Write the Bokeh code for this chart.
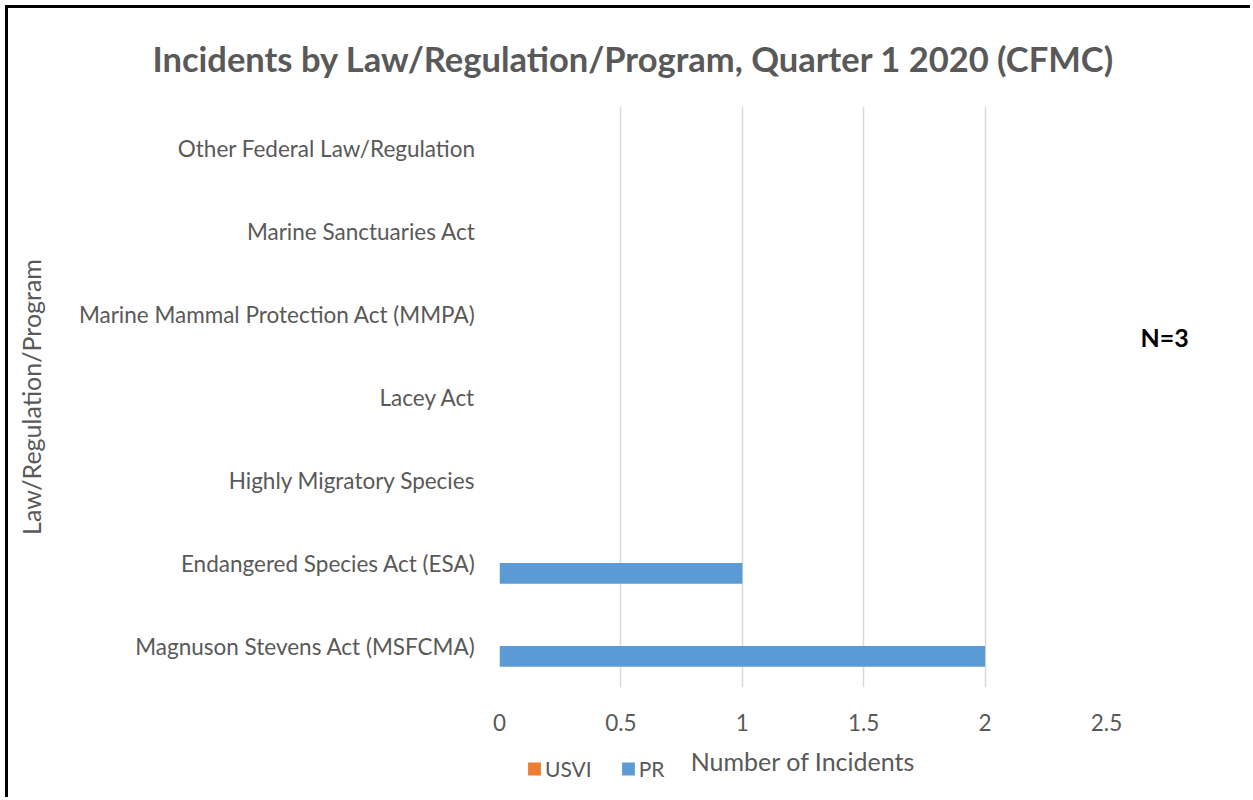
from bokeh.plotting import figure
from bokeh.layouts import column
from bokeh.models import (Range1d, FixedTicker, NumeralTickFormatter,
                          Legend, LegendItem, Title, ColumnDataSource, LinearAxis)
from bokeh.transform import dodge
from bokeh.embed import file_html
from bokeh.resources import INLINE

# ---- data (bottom-to-top order as drawn) ----
categories = [
    "Magnuson Stevens Act (MSFCMA)",
    "Endangered Species Act (ESA)",
    "Highly Migratory Species",
    "Lacey Act",
    "Marine Mammal Protection Act (MMPA)",
    "Marine Sanctuaries Act",
    "Other Federal Law/Regulation",
]
usvi = [0, 0, 0, 0, 0, 0, 0]
pr = [2, 1, 0, 0, 0, 0, 0]
series_names = ["USVI", "PR"]
series_colors = ["#ED7D31", "#5B9BD5"]
x_ticks = [0, 0.5, 1, 1.5, 2, 2.5]
title_text = "Incidents by Law/Regulation/Program, Quarter 1 2020 (CFMC)"
note_text = "N=3"
note_pos = 4.22  # vertical position of the note, in category slots from the bottom

FONT = "Lato"
GRAY = "#595959"

n = len(categories)
slot = [i + 0.5 for i in range(n)]  # centre of each category slot
src = ColumnDataSource(dict(cat=categories, slot=slot, USVI=usvi, PR=pr))

p = figure(width=1245, height=792, output_backend="svg", toolbar_location=None,
           title=None, x_range=Range1d(0, 2.5), y_range=Range1d(0, n),
           min_border_left=491, min_border_right=147, min_border_top=98,
           min_border_bottom=113)
p.outline_line_color = None
p.background_fill_color = "white"
p.border_fill_color = "white"
p.styles = {"margin-left": "5px", "margin-top": "5px",
            "border-left": "3px solid black", "border-top": "3px solid black"}

r_usvi = p.hbar(y=dodge("slot", 0.125), right="USVI", height=0.25,
                source=src, fill_color=series_colors[0], line_color=None)
r_pr = p.hbar(y=dodge("slot", -0.125), right="PR", height=0.25,
              source=src, fill_color=series_colors[1], line_color=None)

# axes
p.xaxis.ticker = FixedTicker(ticks=x_ticks)
p.xaxis.formatter = NumeralTickFormatter(format="0.[0]")
p.yaxis.ticker = FixedTicker(ticks=slot)
p.yaxis.major_label_overrides = dict(zip(slot, categories))
for ax in (p.xaxis[0], p.yaxis[0]):
    ax.axis_line_color = None
    ax.major_tick_line_color = None
    ax.minor_tick_line_color = None
    ax.major_label_text_font = FONT
    ax.major_label_text_font_size = "22.5px"
    ax.major_label_text_color = GRAY
    ax.axis_label_text_font = FONT
    ax.axis_label_text_font_size = "25px"
    ax.axis_label_text_font_style = "normal"
    ax.axis_label_text_color = GRAY
p.xaxis.axis_label = "Number of Incidents"
p.yaxis.axis_label = "Law/Regulation/Program"
p.xaxis.major_label_standoff = 20
p.xaxis.axis_label_standoff = 12
p.yaxis.major_label_standoff = 18
p.yaxis.axis_label_standoff = 30

p.xgrid.grid_line_color = "#D9D9D9"
p.xgrid.grid_line_width = 1.5
p.ygrid.grid_line_color = None

# note "N=3" on the right side, as the single label of a bare right axis
note_axis = LinearAxis(ticker=FixedTicker(ticks=[note_pos]),
                       major_label_overrides={note_pos: note_text})
note_axis.axis_line_color = None
note_axis.major_tick_line_color = None
note_axis.minor_tick_line_color = None
note_axis.major_label_standoff = 28
note_axis.major_label_text_font = FONT
note_axis.major_label_text_font_size = "25px"
note_axis.major_label_text_font_style = "bold"
note_axis.major_label_text_color = "black"
p.add_layout(note_axis, "right")

# title
p.add_layout(Title(text=title_text, align="left", offset=-347, standoff=55,
                   text_font=FONT, text_font_size="34.5px", text_font_style="bold",
                   text_color=GRAY), "above")

# series legend: a small legend-only figure laid over the bottom-left area
lf = figure(width=150, height=26, output_backend="svg", toolbar_location=None,
            x_range=Range1d(0, 1), y_range=Range1d(0, 1), min_border=0)
lf.axis.visible = False
lf.grid.visible = False
lf.outline_line_color = None
lf.background_fill_alpha = 0
lf.border_fill_alpha = 0
lf.styles = {"position": "absolute", "left": "526px", "top": "755px"}
# swatch renderers carry one bar each, placed outside the visible range
l_usvi = lf.hbar(y=[-10], right=[1], height=0.5, fill_color=series_colors[0], line_color=None)
l_pr = lf.hbar(y=[-10], right=[1], height=0.5, fill_color=series_colors[1], line_color=None)
legend = Legend(items=[LegendItem(label=series_names[0], renderers=[l_usvi]),
                       LegendItem(label=series_names[1], renderers=[l_pr])],
                orientation="horizontal", location="left")
legend.glyph_width = 16
legend.glyph_height = 16
legend.label_standoff = 3
legend.spacing = 28
legend.padding = 0
legend.margin = 0
legend.label_height = 16
legend.label_text_font = FONT
legend.label_text_font_size = "21px"
legend.label_text_color = GRAY
legend.label_text_baseline = "middle"
legend.border_line_color = None
legend.background_fill_alpha = 0
lf.add_layout(legend, "center")

open("out.html", "w").write(file_html(column(p, lf), INLINE))
